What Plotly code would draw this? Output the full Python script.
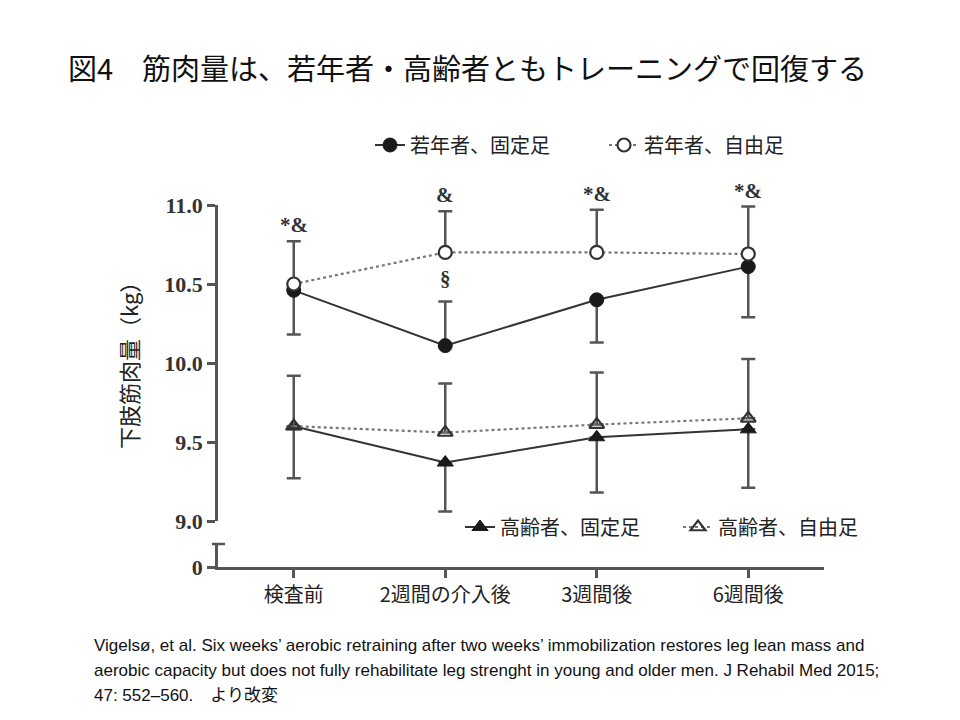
import plotly.graph_objects as go

# ---- data ----
categories = ["検査前", "2週間の介入後", "3週間後", "6週間後"]

young_fixed = [10.46, 10.11, 10.40, 10.61]
young_fixed_plus = [0, 0.28, 0, 0]
young_fixed_minus = [0.28, 0, 0.27, 0.32]

young_free = [10.50, 10.70, 10.70, 10.69]
young_free_plus = [0.27, 0.26, 0.27, 0.30]
young_free_minus = [0, 0, 0, 0]

old_fixed = [9.60, 9.37, 9.53, 9.58]
old_fixed_plus = [0, 0, 0, 0]
old_fixed_minus = [0.33, 0.31, 0.35, 0.37]

old_free = [9.60, 9.56, 9.61, 9.65]
old_free_plus = [0.32, 0.31, 0.33, 0.375]
old_free_minus = [0, 0, 0, 0]

names = ["若年者、固定足", "若年者、自由足", "高齢者、固定足", "高齢者、自由足"]

# significance marks above the upper error bar of the young groups: (category index, text)
sig_top = [(0, "*&"), (1, "&"), (2, "*&"), (3, "*&")]
# mark between groups at week-2: (category index, text, value)
sig_mid = [(1, "§", 10.53)]

y_ticks_top = [9.0, 9.5, 10.0, 10.5, 11.0]
y_ticks_top_text = ["9.0", "9.5", "10.0", "10.5", "11.0"]

title_text = "図4　筋肉量は、若年者・高齢者ともトレーニングで回復する"
y_title = "下肢筋肉量（kg）"
citation = [
    "Vigelsø, et al. Six weeks’ aerobic retraining after two weeks’ immobilization restores leg lean mass and",
    "aerobic capacity but does not fully rehabilitate leg strenght in young and older men. J Rehabil Med 2015;",
    "47: 552–560.　より改変",
]

# ---- layout geometry (pixels) ----
W, H = 960, 720
ML, MR, MT, MB = 218, 136, 205, 153
PW, PH = W - ML - MR, H - MT - MB


def px_x(px):
    return (px - ML) / PW


def px_y(py):
    return (H - MB - py) / PH


AX = "#555555"
DARK = "#222222"
CJK = "Noto Sans CJK JP"
SERIF = "Liberation Serif"

fig = go.Figure()


def err(plus, minus):
    return dict(type="data", symmetric=False, array=plus, arrayminus=minus,
                color=AX, thickness=2.5, width=7)


fig.add_trace(go.Scatter(
    x=categories, y=young_fixed, name=names[0], mode="lines+markers",
    line=dict(color="#333333", width=2),
    marker=dict(symbol="circle", size=14, color="#1a1a1a", line=dict(color="#1a1a1a", width=1)),
    error_y=err(young_fixed_plus, young_fixed_minus), legend="legend", cliponaxis=False))
fig.add_trace(go.Scatter(
    x=categories, y=young_free, name=names[1], mode="lines+markers",
    line=dict(color="#777777", width=2.2, dash="dot"),
    marker=dict(symbol="circle", size=13, color="white", line=dict(color="#333333", width=2.2)),
    error_y=err(young_free_plus, young_free_minus), legend="legend", cliponaxis=False))
fig.add_trace(go.Scatter(
    x=categories, y=old_fixed, name=names[2], mode="lines+markers",
    line=dict(color="#333333", width=2),
    marker=dict(symbol="triangle-up", size=14, color="#1a1a1a", line=dict(color="#1a1a1a", width=1)),
    error_y=err(old_fixed_plus, old_fixed_minus), legend="legend2", cliponaxis=False))
fig.add_trace(go.Scatter(
    x=categories, y=old_free, name=names[3], mode="lines+markers",
    line=dict(color="#777777", width=2.2, dash="dot"),
    marker=dict(symbol="triangle-up-open", size=13, color="#333333", line=dict(color="#333333", width=2.2)),
    error_y=err(old_free_plus, old_free_minus), legend="legend2", cliponaxis=False))

sigfont = dict(family=SERIF, size=21, color="#333333", weight="bold")
for i, txt in sig_top:
    top = young_free[i] + young_free_plus[i]
    fig.add_annotation(x=categories[i], y=top, xref="x", yref="y", text=txt, showarrow=False,
                       yanchor="bottom", yshift=2, font=sigfont)
for i, txt, v in sig_mid:
    fig.add_annotation(x=categories[i], y=v, xref="x", yref="y", text=txt, showarrow=False,
                       font=sigfont)

fig.add_annotation(x=px_x(128), y=px_y(360), xref="paper", yref="paper", text=y_title,
                   xanchor="center", yanchor="middle",
                   textangle=-90, showarrow=False, font=dict(family=CJK, size=22, color=DARK))

for k, line in enumerate(citation):
    fig.add_annotation(x=px_x(92), y=px_y(645 + 25 * k), xref="paper", yref="paper",
                       xanchor="left", yanchor="middle", text=line, showarrow=False,
                       font=dict(family="Liberation Sans, " + CJK, size=17, color="#111111"))

# cap at top of the broken axis segment
fig.add_shape(type="line", xref="paper", yref="y2 domain", x0=px_x(212), x1=px_x(225),
              y0=1, y1=1, line=dict(color=AX, width=2.5))

tickfont = dict(family=SERIF, size=22, color="#333333", weight="bold")
legfont = dict(family=CJK, size=20, color=DARK)

fig.update_layout(
    width=W, height=H, margin=dict(l=ML, r=MR, t=MT, b=MB, autoexpand=False),
    paper_bgcolor="white", plot_bgcolor="white",
    title=dict(text=title_text, x=68 / W, xanchor="left", xref="container",
               y=1 - 70 / H, yanchor="middle", yref="container",
               font=dict(family=CJK, size=29, color="#111111")),
    xaxis=dict(anchor="y2", domain=[0, 1], range=[-0.5, 3.5], type="category",
               showline=True, linecolor=AX, linewidth=2.5, ticks="outside", ticklen=8,
               tickwidth=2.5, tickcolor=AX, showgrid=False, zeroline=False,
               tickfont=dict(family=CJK, size=20, color=DARK)),
    yaxis=dict(domain=[px_y(521), 1], anchor="x", range=[9.0, 11.0],
               tickvals=y_ticks_top, ticktext=y_ticks_top_text,
               showline=True, linecolor=AX, linewidth=2.5, ticks="outside", ticklen=8,
               tickwidth=2.5, tickcolor=AX, showgrid=False, zeroline=False, tickfont=tickfont),
    yaxis2=dict(domain=[0, px_y(544)], anchor="x", range=[0, 1], tickvals=[0], ticktext=["0"],
                showline=True, linecolor=AX, linewidth=2.5, ticks="outside", ticklen=8,
                tickwidth=2.5, tickcolor=AX, showgrid=False, zeroline=False, tickfont=tickfont),
    legend=dict(orientation="h", x=370 / W, y=1 - 145 / H, xanchor="left", yanchor="middle",
                xref="container", yref="container", itemwidth=30, entrywidth=189,
                entrywidthmode="pixels", font=legfont, bgcolor="rgba(0,0,0,0)"),
    legend2=dict(orientation="h", x=460 / W, y=1 - 527 / H, xanchor="left", yanchor="middle",
                 xref="container", yref="container", itemwidth=30, entrywidth=173,
                 entrywidthmode="pixels", font=legfont, bgcolor="rgba(0,0,0,0)"),
    showlegend=True,
)

# invisible trace so yaxis2 is rendered
fig.add_trace(go.Scatter(x=[categories[0]], y=[0.5], yaxis="y2", mode="markers",
                         marker=dict(opacity=0), showlegend=False, hoverinfo="skip"))

fig.write_html("out.html")
